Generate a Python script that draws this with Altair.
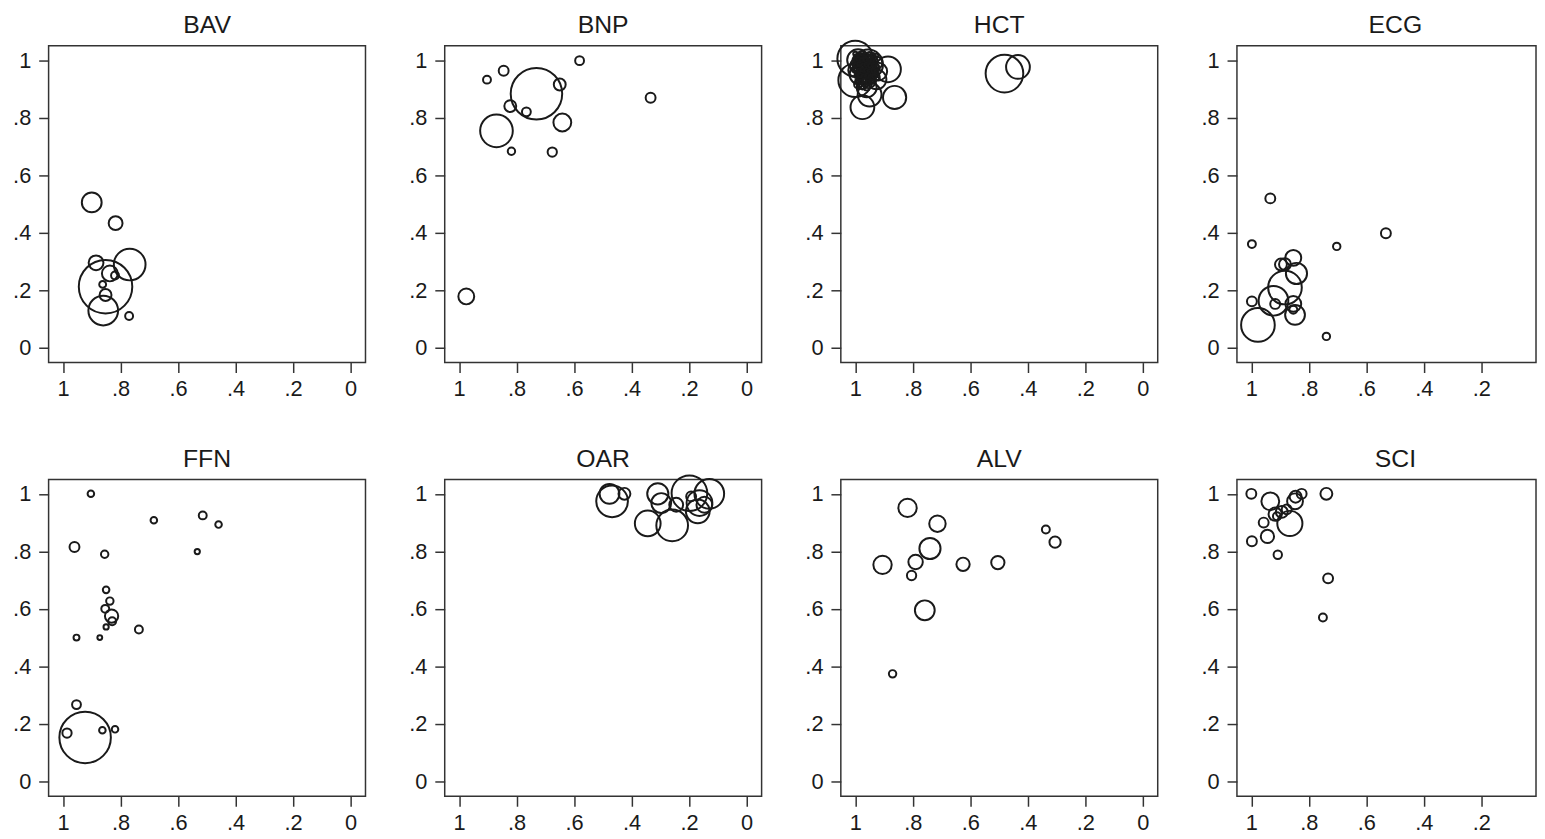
import altair as alt
import pandas as pd

tests = ["BAV", "BNP", "HCT", "ECG", "FFN", "OAR", "ALV", "SCI"]

# specificity (x, reversed), sensitivity (y), relative study weight (w)
bav_spec = [0.900, 0.817, 0.885, 0.768, 0.852, 0.837, 0.819, 0.862, 0.852, 0.860, 0.770]
bav_sens = [0.505, 0.433, 0.295, 0.289, 0.212, 0.258, 0.251, 0.220, 0.183, 0.129, 0.110]
bav_w    = [100,   49,    56,    256,   729,   64,    16,    12,    36,    225,   16]

bnp_spec = [0.903, 0.845, 0.581, 0.731, 0.650, 0.822, 0.766, 0.870, 0.641, 0.818, 0.676, 0.334, 0.975]
bnp_sens = [0.932, 0.963, 0.998, 0.883, 0.915, 0.840, 0.820, 0.754, 0.783, 0.683, 0.680, 0.869, 0.178]
bnp_w    = [16,    25,    20,    676,   36,    36,    20,    272,   81,    14,    22,    25,    64]

hct_spec = [0.481, 0.434, 1.000, 1.000, 0.955, 0.886, 0.863, 0.975, 0.950, 0.926, 0.960,
            0.990, 0.970, 0.980, 0.960, 0.950, 0.985, 0.975, 0.940, 1.000, 0.965, 0.990,
            0.930, 0.955, 0.975, 0.950, 0.920,
            0.995, 0.985, 0.975, 0.965, 0.955, 0.945, 0.935, 0.995, 0.985, 0.975, 0.965,
            0.955, 0.945, 0.935, 0.990, 0.980, 0.970, 0.960, 0.950, 0.940, 0.930, 0.985,
            0.970, 0.955, 0.940, 0.925, 0.990, 0.975, 0.960,
            1.000, 0.988, 0.976, 0.963, 0.951, 0.938, 0.926, 1.002, 0.990, 0.978, 0.966,
            0.953, 0.941, 0.929, 0.998, 0.986, 0.973, 0.961, 0.948, 0.936, 0.924, 1.000,
            0.987, 0.975, 0.962, 0.950, 0.937, 0.925, 0.996, 0.984, 0.971, 0.959, 0.946,
            0.934, 0.993, 0.980, 0.968, 0.955, 0.943]
hct_sens = [0.953, 0.976, 1.005, 0.930, 0.985, 0.968, 0.870, 0.836, 0.880, 0.933, 0.905,
            0.980, 0.960, 0.990, 0.990, 0.960, 0.950, 0.975, 0.975, 0.965, 0.945, 1.000,
            0.990, 0.930, 0.920, 1.000, 0.960,
            1.010, 1.005, 1.012, 1.008, 1.003, 1.010, 1.000, 0.985, 0.990, 0.982, 0.978,
            0.985, 0.990, 0.970, 0.955, 0.960, 0.950, 0.962, 0.945, 0.955, 0.950, 0.930,
            0.935, 0.925, 0.930, 0.940, 0.915, 0.910, 0.905,
            1.022, 1.020, 1.024, 1.019, 1.021, 1.018, 1.015, 1.002, 1.004, 1.000, 1.003,
            0.999, 1.001, 0.996, 0.983, 0.986, 0.981, 0.984, 0.980, 0.983, 0.978, 0.966,
            0.963, 0.967, 0.964, 0.961, 0.965, 0.960, 0.945, 0.947, 0.943, 0.946, 0.942,
            0.944, 0.927, 0.925, 0.929, 0.923, 0.926]
hct_w    = [361,   144,   324,   289,   225,   169,   137,   144,   144,   100,   100,
            64,    49,    36,    81,    64,    100,   25,    36,    49,    36,    121,
            49,    64,    36,    25,    81,
            9,     16,    12,    9,     16,    9,     12,    16,    9,     12,    16,
            9,     16,    12,    9,     16,    12,    9,     16,    12,    9,     12,
            16,    9,     12,    9,     16,    12,    9,
            4,     4,     4,     4,     4,     4,     4,     4,     4,     4,     4,
            4,     4,     4,     4,     4,     4,     4,     4,     4,     4,     4,
            4,     4,     4,     4,     4,     4,     4,     4,     4,     4,     4,
            4,     4,     4,     4,     4,     4]

ecg_spec = [0.934, 0.998, 0.532, 0.703, 0.739, 0.854, 0.897, 0.883, 0.843, 0.883, 0.998,
            0.923, 0.917, 0.854, 0.854, 0.848, 0.977]
ecg_sens = [0.519, 0.360, 0.398, 0.352, 0.039, 0.312, 0.289, 0.290, 0.258, 0.209, 0.161,
            0.163, 0.152, 0.152, 0.132, 0.114, 0.079]
ecg_w    = [25,    16,    25,    14,    14,    64,    36,    36,    114,   289,   25,
            225,   25,    64,    16,    100,   289]

ffn_spec = [0.903, 0.684, 0.514, 0.459, 0.533, 0.960, 0.855, 0.850, 0.837, 0.853, 0.831,
            0.829, 0.850, 0.736, 0.953, 0.872, 0.953, 0.986, 0.923, 0.863, 0.819]
ffn_sens = [1.000, 0.908, 0.925, 0.893, 0.799, 0.815, 0.790, 0.666, 0.627, 0.600, 0.575,
            0.557, 0.537, 0.528, 0.500, 0.500, 0.267, 0.168, 0.153, 0.178, 0.181]
ffn_w    = [11,    11,    16,    11,    7,     25,    14,    11,    14,    16,    45,
            16,    7,     16,    9,     6,     20,    22,    676,   11,    11]

oar_spec = [0.477, 0.468, 0.425, 0.309, 0.297, 0.344, 0.259, 0.245, 0.199, 0.193, 0.130,
            0.164, 0.170, 0.147]
oar_sens = [1.000, 0.974, 1.000, 1.000, 0.968, 0.897, 0.890, 0.962, 1.002, 0.991, 1.000,
            0.968, 0.939, 0.962]
oar_w    = [100,   256,   36,    114,   100,   169,   256,   49,    324,   25,    225,
            169,   144,   64]

alv_spec = [0.818, 0.714, 0.740, 0.905, 0.790, 0.804, 0.758, 0.625, 0.504, 0.337, 0.305, 0.870]
alv_sens = [0.951, 0.896, 0.810, 0.753, 0.763, 0.716, 0.595, 0.755, 0.761, 0.876, 0.832, 0.374]
alv_w    = [86,    69,    114,   86,    53,    22,    100,   45,    45,    16,    32,    14]

sci_spec = [1.000, 0.739, 0.825, 0.934, 0.848, 0.846, 0.866, 0.917, 0.894, 0.911, 0.957,
            0.998, 0.944, 0.908, 0.733, 0.751, 0.877]
sci_sens = [1.000, 1.000, 1.000, 0.974, 0.974, 0.990, 0.897, 0.929, 0.937, 0.922, 0.900,
            0.835, 0.852, 0.788, 0.706, 0.570, 0.946]
sci_w    = [25,    36,    25,    81,    64,    36,    161,   45,    36,    16,    25,
            25,    45,    18,    25,    16,    25]

series = {
    "BAV": (bav_spec, bav_sens, bav_w),
    "BNP": (bnp_spec, bnp_sens, bnp_w),
    "HCT": (hct_spec, hct_sens, hct_w),
    "ECG": (ecg_spec, ecg_sens, ecg_w),
    "FFN": (ffn_spec, ffn_sens, ffn_w),
    "OAR": (oar_spec, oar_sens, oar_w),
    "ALV": (alv_spec, alv_sens, alv_w),
    "SCI": (sci_spec, sci_sens, sci_w),
}

tick_vals = [0, 0.2, 0.4, 0.6, 0.8, 1]
label_expr = ("datum.value == 0 || datum.value == 1 ? format(datum.value, 'd') "
              ": substring(format(datum.value, '.1f'), 1)")

FONT = "Liberation Sans"
INK = "#1a1a1a"
W, H = 320, 320
LO, HI = -0.052, 1.05
PX_PER_UNIT = W / (HI - LO)
W_LAST = 302  # last column is cut by the page edge in the original

charts = []
for i, t in enumerate(tests):
    sx, sy, sw = series[t]
    df = pd.DataFrame({"spec": sx, "sens": sy, "w": sw})
    last = (i % 4 == 3)
    w = W_LAST if last else W
    xlo = HI - w / PX_PER_UNIT if last else LO
    xvals = [v for v in tick_vals if v >= xlo + 0.04]
    pts = (
        alt.Chart(df)
        .mark_point(shape="circle", filled=False, strokeWidth=2, color=INK, opacity=1)
        .encode(
            x=alt.X("spec:Q", title=None,
                    scale=alt.Scale(domain=[xlo, HI], reverse=True, nice=False, zero=False),
                    axis=alt.Axis(values=xvals, labelExpr=label_expr)),
            y=alt.Y("sens:Q", title=None,
                    scale=alt.Scale(domain=[LO, HI], nice=False, zero=False),
                    axis=alt.Axis(values=tick_vals, labelExpr=label_expr)),
            size=alt.Size("w:Q", scale=alt.Scale(domain=[0, 1000], range=[0, 4000]), legend=None),
        )
    )
    ttl = (
        alt.Chart(pd.DataFrame({"name": [t]}))
        .mark_text(font=FONT, fontSize=25, color=INK, align="center", baseline="alphabetic")
        .encode(text="name:N", x=alt.value(W / 2), y=alt.value(-13))
    )
    charts.append(alt.layer(pts, ttl).properties(width=w, height=H))

chart = (
    alt.concat(*charts, columns=4, spacing={"row": 46, "column": 41})
    .configure(padding={"left": 3, "top": 0, "right": 0, "bottom": 0}, background="white")
    .configure_view(stroke="#333333", strokeWidth=1.5)
    .configure_axis(domain=False, grid=False, tickSize=10, tickColor="#333333", tickWidth=1.5,
                    labelFont=FONT, labelFontSize=22, labelColor=INK)
    .configure_axisX(labelPadding=6)
    .configure_axisY(labelPadding=8)
)

chart.save("out.html", embed_options={"renderer": "svg", "actions": False})
